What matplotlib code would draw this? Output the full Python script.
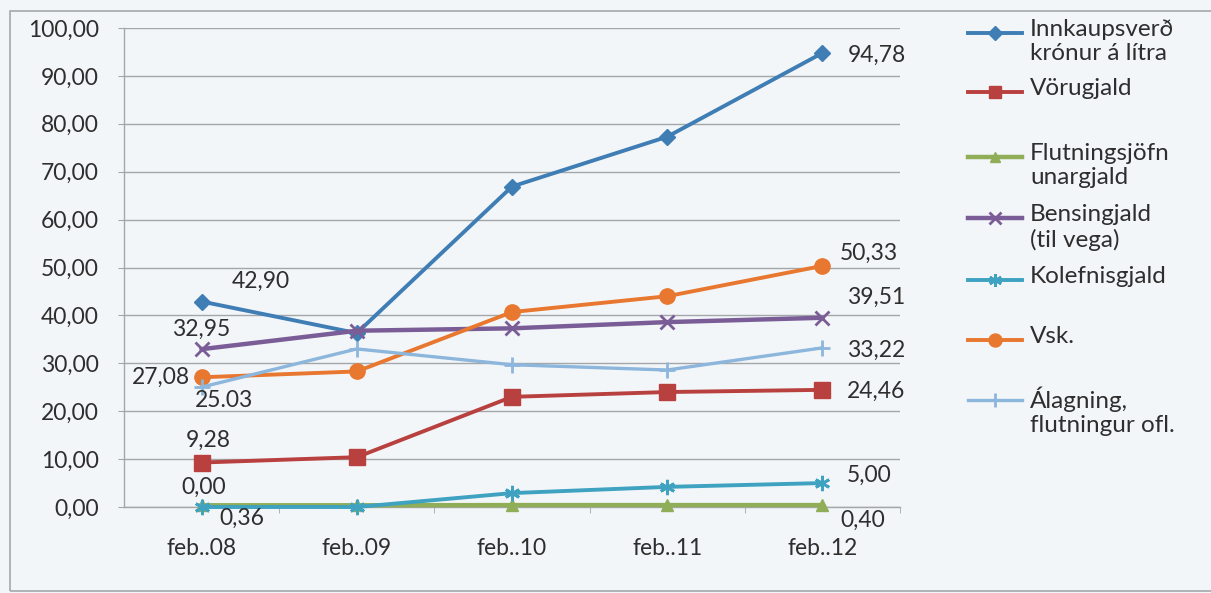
import numpy as np
import matplotlib
matplotlib.use("Agg")
import matplotlib.pyplot as plt
from matplotlib.lines import Line2D
from matplotlib.patches import Rectangle
from matplotlib.ticker import FuncFormatter, FixedLocator

plt.rcParams['font.family'] = ['Lato', 'DejaVu Sans']

# data
months = ["feb..08", "feb..09", "feb..10", "feb..11", "feb..12"]
innkaup = [42.90, 36.3, 66.9, 77.3, 94.78]
vorugjald = [9.28, 10.4, 23.0, 24.0, 24.46]
flutnings = [0.36, 0.36, 0.40, 0.40, 0.40]
bensingjald = [32.95, 36.8, 37.3, 38.6, 39.51]
kolefni = [0.00, 0.00, 2.9, 4.2, 5.00]
vsk = [27.08, 28.3, 40.7, 44.0, 50.33]
alagning = [25.03, 33.0, 29.7, 28.6, 33.22]

names = ["Innkaupsverð\nkrónur á lítra", "Vörugjald", "Flutningsjöfn\nunargjald",
         "Bensingjald\n(til vega)", "Kolefnisgjald", "Vsk.",
         "Álagning,\nflutningur ofl."]

# first / last value labels as printed in the chart
first_labels = ["42,90", "9,28", "0,36", "32,95", "0,00", "27,08", "25.03"]
last_labels = ["94,78", "24,46", "0,40", "39,51", "5,00", "50,33", "33,22"]

series = [innkaup, vorugjald, flutnings, bensingjald, kolefni, vsk, alagning]
colors = ['#3f7db5', '#b8413f', '#8fae57', '#7a5d97', '#3ea2c0', '#e8772f', '#8db6dc']
markers = ['D', 's', '^', 'x', (6, 2, 0), 'o', '+']
msizes = [8, 11, 8, 10, 11, 11, 12]
lwidths = [2.8, 2.8, 3.2, 3.2, 2.8, 2.8, 2.4]

# label offsets in pixels (first point, last point)
first_off = [(59, 20), (7, 22), (40, -13), (0, 20), (2, 20), (-41, 0), (22, -13)]
last_off = [(54, -2), (54, -2), (40, -15), (54, 20), (47, 8), (46, 13), (54, -2)]

txt = '#2e2e2e'
fs = 16.5

W, H = 1211, 593
fig = plt.figure(figsize=(W / 100, H / 100), dpi=100)
bg = '#f3f6f9'
fig.patch.set_facecolor(bg)
fig.patches.append(Rectangle((10 / W, 1 - 591 / H), (1220 - 10) / W, (591 - 11) / H,
                             transform=fig.transFigure, fill=False,
                             edgecolor='#a6a9ac', lw=1.2))

ax = fig.add_axes([124 / W, 1 - 507 / H, (900 - 124) / W, (507 - 28) / H])
ax.set_facecolor(bg)


def mew_for(m):
    return 2 if m in ('x', '+') or isinstance(m, tuple) else 1


x = np.arange(len(months))
for i, vals in enumerate(series):
    ax.plot(x, vals, color=colors[i], marker=markers[i], markersize=msizes[i],
            lw=lwidths[i], mew=mew_for(markers[i]), mec=colors[i],
            zorder=3 + i, clip_on=False)
    ax.annotate(first_labels[i], (x[0], vals[0]), xytext=first_off[i],
                textcoords='offset pixels', ha='center', va='center',
                fontsize=fs, color=txt, zorder=20)
    ax.annotate(last_labels[i], (x[-1], vals[-1]), xytext=last_off[i],
                textcoords='offset pixels', ha='center', va='center',
                fontsize=fs, color=txt, zorder=20)

ax.set_xlim(-0.5, len(months) - 0.5)
ax.set_ylim(0, 100)
ax.set_yticks(np.arange(0, 101, 10))
ax.yaxis.set_major_formatter(FuncFormatter(lambda v, p: ("%.2f" % v).replace('.', ',')))
ax.grid(axis='y', color='#a4a7aa', lw=1)
ax.set_axisbelow(True)

ax.set_xticks(x)
ax.set_xticklabels(months)
ax.xaxis.set_minor_locator(FixedLocator(np.arange(0.5, len(months), 1)))
ax.tick_params(axis='x', which='major', length=0, pad=22, labelsize=fs, labelcolor=txt)
ax.tick_params(axis='x', which='minor', length=4, color='#a4a7aa', direction='out')
ax.tick_params(axis='y', length=4, color='#a4a7aa', pad=14, labelsize=fs, labelcolor=txt)

for s in ['top', 'right']:
    ax.spines[s].set_visible(False)
for s in ['left', 'bottom']:
    ax.spines[s].set_color('#a4a7aa')
    ax.spines[s].set_linewidth(1)

# legend drawn at the positions used by the original chart
leg_y = [33, 92, 157, 218, 280, 340, 400]
for i, yy in enumerate(leg_y):
    yf = 1 - yy / H
    fig.add_artist(Line2D([968 / W, 1022 / W], [yf, yf], color=colors[i], lw=lwidths[i],
                          transform=fig.transFigure))
    fig.add_artist(Line2D([995 / W], [yf], color=colors[i], marker=markers[i],
                          markersize=msizes[i] * 0.85, mew=mew_for(markers[i]),
                          transform=fig.transFigure))
    fig.text(1030 / W, yf + 14 / H, names[i], ha='left', va='top', fontsize=17.5,
             color=txt, linespacing=1.2)

fig.savefig("out.png", dpi=100, facecolor=bg)
